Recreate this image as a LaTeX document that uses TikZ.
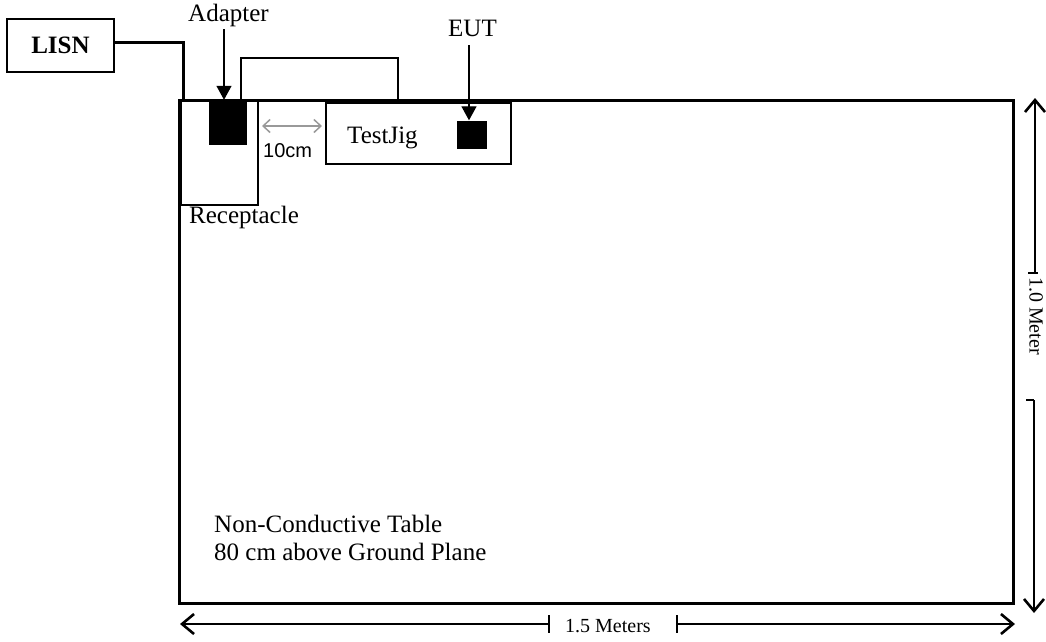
\documentclass[tikz,border=0pt]{standalone}
\usepackage{fontspec}
\setmainfont{Liberation Serif}
\setsansfont{Liberation Sans}
\usetikzlibrary{arrows.meta,positioning}

\begin{document}
\begin{tikzpicture}[x=1pt,y=-1pt,
  box/.style={draw, line width=1.5pt, inner sep=0pt},
  blk/.style={fill=black, inner sep=0pt},
  lbl/.style={font=\fontsize{25}{28}\selectfont, inner sep=0pt},
  dimlbl/.style={font=\fontsize{20}{22}\selectfont, inner sep=0pt},
  wire/.style={line width=3pt},
  cable/.style={line width=1.5pt},
  ptr/.style={-{Triangle[length=14pt,width=15pt]}, line width=1.3pt},
  dimline/.style={-{Straight Barb[length=12pt,width=20pt,line width=2.6pt]}, line width=1.4pt},
  tick/.style={line width=1.4pt},
  gap/.style={{Straight Barb[length=7pt,width=13pt]}-{Straight Barb[length=7pt,width=13pt]}, line width=1.5pt, black!40}
]
\useasboundingbox (0,0) rectangle (1046,641);

%% Table and LISN
\node[box, line width=3pt, minimum width=834pt, minimum height=503pt] (table) at (596,351.5) {};
\node[box, minimum width=107pt, minimum height=53pt, font=\fontsize{25}{28}\selectfont\bfseries] (lisn) at (60.5,45.5) {LISN};

%% Receptacle, adapter, test jig, EUT
\node[box, minimum width=77pt, minimum height=104pt] (recept) at (219.5,153) {};
\node[blk, minimum width=38pt, minimum height=45pt] (adapter) at (228,122.5) {};
\node[box, minimum width=185pt, minimum height=61pt] (jig) at (418.5,133.5) {};
\node[blk, minimum width=30pt, minimum height=28pt] (eut) at (472,134.5) {};

%% Labels
\node[lbl, anchor=base west] (adlbl) at (188,21) {Adapter};
\node[lbl, anchor=base west] (eutlbl) at (448,36) {EUT};
\node[lbl, anchor=base west] (jiglbl) at (347,143) {TestJig};
\node[lbl, anchor=base west] (reclbl) at (189,223) {Receptacle};
\node[dimlbl, font=\sffamily\fontsize{20}{22}\selectfont, anchor=base west] (gaplbl) at (263,157) {10cm};
\node[lbl, anchor=base west] (tablbl1) at (214,532) {Non-Conductive Table};
\node[lbl, anchor=base west] (tablbl2) at (214,560) {80 cm above Ground Plane};

%% Wiring
\coordinate (feed) at (183,100);
\draw[wire] ([yshift=3pt]lisn.east) -| (feed);
\coordinate (plug) at (241,100);
\coordinate (jigin) at (398,100);
\draw[cable] (plug) -- ++(0,-42) -| (jigin);

%% Pointers
\coordinate (adtop) at (224,29);
\coordinate (euttop) at (469,45);
\draw[ptr] (adtop) -- (adtop |- adapter.north);
\draw[ptr] (euttop) -- (euttop |- eut.north);
\draw[gap] (262,126) -- (322,126);

%% Dimensions
\coordinate (wtop) at (1035,273);
\coordinate (wbot) at (1034,400);
\coordinate (lmid) at (549,624);
\coordinate (rmid) at (677,624);
\draw[dimline] (wtop) -- (1035,98);
\draw[dimline] (wbot) -- (1034,613);
\draw[tick] (wtop) ++(-7,0) -- ++(10,0);
\draw[tick] (wbot) ++(-8,0) -- ++(8,0);
\node[dimlbl, rotate=-90, anchor=west] (hlbl) at (1036,277) {1.0 Meter};
\draw[dimline] (lmid) -- (180,624);
\draw[dimline] (rmid) -- (1015,624);
\draw[tick] (lmid) ++(0,-9) -- ++(0,18);
\draw[tick] (rmid) ++(0,-9) -- ++(0,18);
\node[dimlbl, anchor=base west] (wlbl) at (565,632) {1.5 Meters};
\end{tikzpicture}
\end{document}
